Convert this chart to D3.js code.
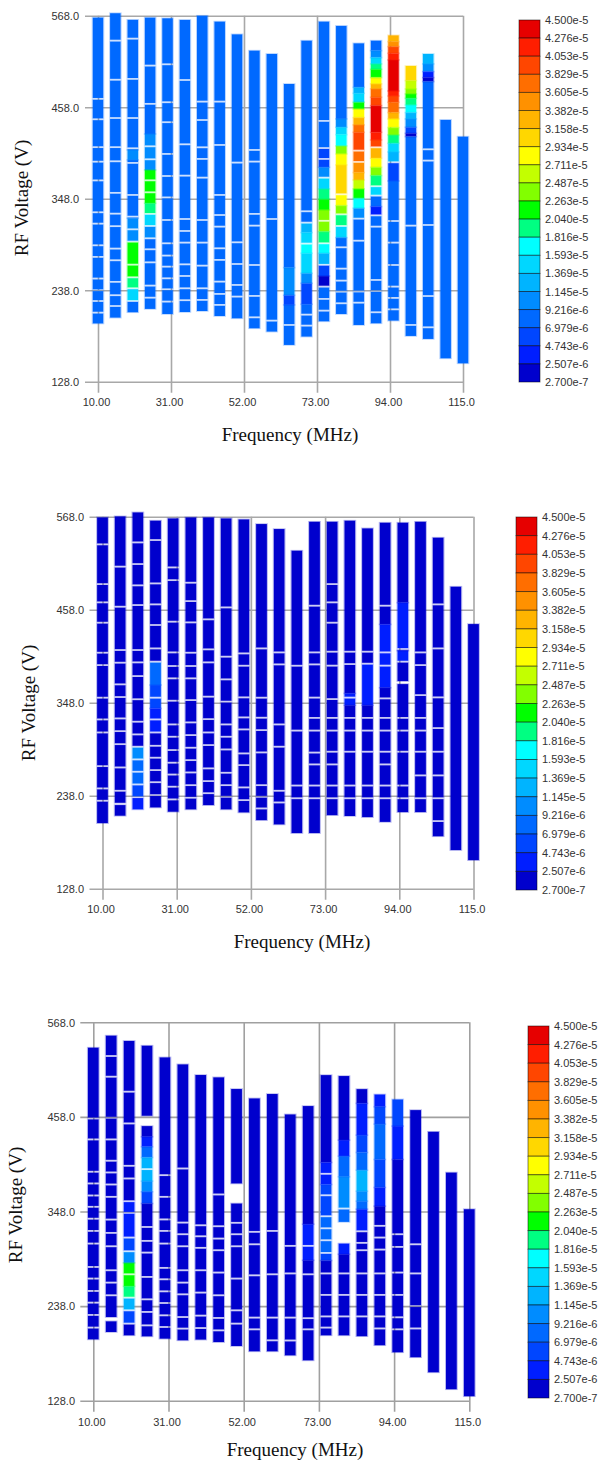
<!DOCTYPE html>
<html><head><meta charset="utf-8">
<script src="https://cdn.jsdelivr.net/npm/d3@7/dist/d3.min.js"></script>
<style>html,body{margin:0;padding:0;background:#fff;overflow:hidden}svg{display:block}</style>
</head><body><svg id="c" width="600" height="1461"></svg>
<script>
const frequencies = [10,15,20,25,30,35,40,45,50,55,60,65,70,75,80,85,90,95,100,105,110,115];
const xTickValues = [10,31,52,73,94,115];
const xTickLabels = ["10.00","31.00","52.00","73.00","94.00","115.0"];
const yTickValues = [128,238,348,458,568];
const yTickLabels = ["128.0","238.0","348.0","458.0","568.0"];
const legendLabels = ["4.500e-5","4.276e-5","4.053e-5","3.829e-5","3.605e-5","3.382e-5","3.158e-5","2.934e-5","2.711e-5","2.487e-5","2.263e-5","2.040e-5","1.816e-5","1.593e-5","1.369e-5","1.145e-5","9.216e-6","6.979e-6","4.743e-6","2.507e-6","2.700e-7"];
const levelColors = ["#0000cd","#001eff","#0046ff","#0069ff","#008cff","#00b4ff","#00d7ff","#00ffff","#00ff82","#00ff00","#82ff00","#c3ff00","#ffff00","#ffd700","#ffb400","#ff9100","#ff6e00","#ff4600","#ff1e00","#e60000"];

// Panel 1: RF voltage extents per frequency
const p1Tops = [565.7,571,563,565.7,564.9,562.9,568,560.9,545.6,526,522,485.9,538,560.9,555.7,534.8,538,544.4,507.6,522,442.7,422.6];
const p1Bottoms = [198,205,211.5,215.5,209.4,211.8,213,207,204.2,192.2,188.2,172.2,182.2,200.6,209.4,196.2,198.2,201.4,183,179.4,156.1,150.1];
const p1Gaps = [
 [468,443.5,410,392.5,370,331.7,318,292,278,252,238,225,211],
 [538,491,445,410,393,355,330,315,288,274,248,232,219],
 [540.4,492,445,408.6,391,352.5,326.4,311.2,296.4,268.7,253.5,240.3,225],
 [508,462,411,395.4,370.1,355.7,329.7,315.2,300.4,287.2,271.5,243.5,229],
 [509.6,464,440,401.8,375.3,349.5,322.4,294.4,279.6,266.3,252.3,239.1,224.3],
 [490.7,413.4,375.7,323.6,309.2,295.2,269.1,255.1,240.3,226],
 [464.7,442.6,409.8,395.8,373.3,322.4,295.2,267.5,240.3,226.3],
 [464.7,412.6,352.5,328.4,314.4,288.4,274.4,248.3,233.5,220.3],
 [391.4,295.6,269.5,244.3,230.3],
 [406.6,392.6,329.7,315.6,268.3,231.1,205.4],
 [323.6,201.4],
 [196.2],
 [332.9,319.2,294,208.6,195.4],
 [441.5,408.9,395.8,373.3,321.4,294.4,268.5,242.3,227.5,213.4],
 [353.3,329.2,315.2,289.6,263.9,249.5,236.3,222.3],
 [405.8,392.2,324,297.5,236.5,223],
 [409.8,363,351.7,328,314.4,250.3,237,211.5],
 [391.8,321.2,295.2,268.3,242.3,228.7,215],
 [315.6,196.2],
 [407.4,393.8,316.4,231,193.4],
 [],[]
];
const p1Paint = [
 [2,406.6,394.6,4],[2,324.4,297.6,4],[2,295,255,9],[2,253.5,240.3,8],[2,240.3,225,6],
 [3,425.8,382.5,4],[3,382.5,342.5,9],[3,342.5,329.7,8],[3,329.7,315.2,6],[3,315.2,300.4,4],
 [11,265.1,231.9,4],[11,231.9,220.3,2],
 [12,319.2,307.2,5],[12,307.2,294,6],[12,294,282.4,7],[12,282.4,258.3,6],[12,258.3,246.3,4],[12,246.3,221.1,2],
 [13,408.9,395.8,2],[13,395.8,385.8,2],[13,385.8,373.3,4],[13,373.3,359.7,6],[13,359.7,347.3,8],[13,347.3,334.5,9],[13,334.5,308.4,10],[13,308.4,294.4,8],[13,294.4,282.4,7],[13,282.4,268.5,5],[13,268.5,255,2],[13,255,242.3,0],
 [14,443.9,433.9,4],[14,433.9,425,6],[14,425,411.4,7],[14,411.4,401.8,10],[14,401.8,388.6,12],[14,388.6,353.7,13],[14,353.7,339.7,12],[14,339.7,329.2,10],[14,329.2,315.2,8],[14,315.2,301.2,6],
 [15,481.9,474.7,5],[15,474.7,463.9,6],[15,463.9,455.9,9],[15,455.9,445.5,12],[15,445.5,436.7,14],[15,436.7,427.8,16],[15,427.8,405.8,17],[15,405.8,392.2,16],[15,392.2,379.4,15],[15,379.4,370.5,14],[15,370.5,359.7,11],[15,359.7,348.5,9],[15,348.5,336.5,7],[15,336.5,324,4],
 [16,526,517.6,4],[16,517.6,510,6],[16,510,503.6,8],[16,503.6,493.6,9],[16,493.6,486,12],[16,486,480,14],[16,480,470,16],[16,470,459.9,17],[16,459.9,427.8,19],[16,427.8,418.6,18],[16,418.6,409.8,17],[16,409.8,396.6,14],[16,396.6,385.8,12],[16,385.8,375.8,10],[16,375.8,363,8],[16,363,351.7,6],[16,338.5,328,1],
 [17,544.4,536.8,14],[17,536.8,530.8,15],[17,530.8,522.8,17],[17,522.8,514.8,18],[17,514.8,477.5,19],[17,477.5,471.5,18],[17,471.5,463.9,17],[17,463.9,451.5,16],[17,451.5,443.9,14],[17,443.9,433.5,12],[17,433.5,424.6,10],[17,424.6,414.6,8],[17,414.6,404.2,6],[17,404.2,391.8,5],[17,391.8,369.3,2],
 [18,507.6,490,13],[18,490,479.9,11],[18,479.9,473.9,10],[18,473.9,468.7,9],[18,468.7,460.7,8],[18,460.7,451.5,7],[18,451.5,443.9,5],[18,443.9,433.9,4],[18,433.9,426.6,2],[18,426.6,422.6,0],
 [19,522,510,5],[19,510,500.8,4],[19,500.8,493.6,1],[19,493.6,488.8,0]
];
const p1Holes = [];

// Panel 2
const p2Tops = [567.2,568.4,573.1,563.3,566,567.2,567.2,566,564.8,559.3,553.4,527.8,562,562,563.3,554.2,560.9,560.9,562,543.2,485.2,441];
const p2Bottoms = [205.6,214.3,221.8,224.1,219,221.8,226.9,221.8,218.2,209.1,204,193.8,193.8,215,214,212.7,207,218.6,218.6,190,173.7,161.8];
const p2Gaps = [
 [535.3,488.3,466.7,442.6,407.1,392.5,353.9,328.2,312.8,273,246.6,232],
 [508.9,461.5,410.3,395.3,369.7,354.7,329.4,314.4,299,271.4,243.8],
 [537.6,512,486.8,463.5,410.3,395.7,379.5,352.1,325.5,310.5,295.9,280.9,266.3,251.3,236.3],
 [540.4,489.1,464.3,439.9,412.2,396.5,353.9,328.2,312.8,297,282.9,268.3,254,238.7],
 [508,493,443.8,407.5,391.4,376.8,350.3,322.3,307.7,292,277,263,248.6,233.6],
 [489.9,468.2,443,407.1,391.4,376.8,351.1,324.7,309.7,294.7,280.1,265.5,250.5,235.6],
 [446.6,411.1,395.7,355.1,328.6,312.8,297.9,270.3,255.3,241],
 [460.7,402.4,375.6,349.2,322.3,307.7,292.7,265.1,250.5,236.7],
 [406.3,391.7,354.3,330.6,316.4,288,274.2,247.8,232.8],
 [412.2,353.9,330.2,315.6,289.2,250.5,236.7,222.9],
 [407.5,393.3,322.3,295.9,243.8,230],
 [391.7,315,250,235],
 [462.7,407.5,393.3,354,330,315,289,275,250,235],
 [488.3,466.7,442.6,408.3,391.8,352.3,330,315,290,275,250,235],
 [408.3,393.7,354,330,315,290,250,235],
 [408.3,394.1,330,315,290,250,235],
 [462.7,407.5,391.8,353.1,330,315,290,275,250,235],
 [411.5,396.5,330,315,290,250,235],
 [407.5,392.5,357,330,315,290,262,235],
 [464.3,412.2,354.3,318,290,262,235,208],
 [],[]
];
const p2Paint = [
 [2,295.9,280.9,4],[2,280.9,251.3,3],[2,251.3,236.3,2],[2,236.3,221.8,1],
 [3,395.3,368.9,3],[3,368.9,341.2,2],[3,341.2,328.2,1],[3,328.2,312.8,1],
 [14,359,345,1],[15,393.3,345,1],
 [16,440.6,408.3,1],[16,406,393.3,1],[16,390.6,365.7,1],
 [17,466.3,411.5,1],[17,409.5,396.5,1]
];
const p2Holes = [[1,229.6,226.9],[17,373.6,370]];

// Panel 3
const p3Tops = [538.5,552.5,546.3,540.8,527.2,519.1,506.7,504,490.4,479.5,484.6,460.9,470.6,506.6,505.5,490.3,484.1,478.3,465.9,440.7,393.3,350.7];
const p3Bottoms = [199.3,207.9,204,202.8,200.1,198.2,199,196.2,191.6,185.4,185.4,180.7,174.9,204,204,203,192.5,184.3,178.5,161,141.3,133.2];
const p3Gaps = [
 [456.2,431.8,394.2,380.6,366.6,353.4,339.6,325.4,310.7,283.5,270,255.6,242,227.7,213],
 [528.8,504.7,457,431.8,407,393.4,379.4,365,338.6,323.1,307.6,279.7,265.3,250.6],
 [487.3,450.4,401.1,386.4,360,346.4,317.7,301.8,275,247.8,233.1,217.6],
 [397.3,330,313.8,300.2,271.9,245.9,231.2,215.6],
 [390.3,365,338.8,325.4,310.7,282.4,269.2,255.2,241.6,227.3,213.7],
 [398,335.1,321.6,307.6,279.7,265.3,251.7,225.3,211.8],
 [332,319.2,305.7,279.7,253.7,226.9,212.5],
 [367.8,330.9,316.5,303,277,250.6,224.2,209.8],
 [334.8,321.6,307.6,270,233.1,217.6],
 [324.3,309.9,273.8,224.6,211],
 [325.4,275,224.6,198.2],
 [308,276,224.6,198],
 [308,275,224,211],
 [391.8,366.9,342.5,328.5,314.6,299.8,276,251,226,213],
 [351.4,276,251,226],
 [325,311.5,303,276,251,226],
 [331.3,317.7,303.7,276,251,226,212],
 [321.6,306.8,277,251,225,211],
 [309.9,276,238,212],
 [],[],[]
];
const p3Paint = [
 [2,360,317.7,1],[2,317.7,301.8,2],[2,301.8,288.2,4],[2,288.2,261,9],[2,261,247.8,8],[2,247.8,233.1,5],[2,233.1,217.6,2],
 [3,434.9,423.3,1],[3,423.3,410.8,3],[3,410.8,383.3,5],[3,383.3,370.9,4],[3,370.9,357.3,2],
 [12,333.2,308,1],[12,308,291.3,1],
 [13,405,379.4,1],[13,379.4,366.9,2],[13,366.9,342.5,2],[13,342.5,299.8,3],[13,299.8,291,2],
 [14,431,412.4,1],[14,412.4,388.3,3],[14,388.3,351.4,4],[14,351.4,335.9,3],[14,310.7,298.3,1],
 [15,473.7,436.8,1],[15,436.8,416.6,2],[15,416.6,396,3],[15,396,371.6,5],[15,371.6,360,4],[15,360,350.7,3],[15,350.7,325,1],
 [16,484.1,469.8,1],[16,469.8,449.6,2],[16,449.6,408.5,3],[16,408.5,375.9,2],[16,375.9,354.2,1],
 [17,478.3,447.3,2],[17,447.3,408.5,1]
];
const p3Holes = [[3,459.3,447.3],[8,380.6,357.3],[14,335.9,310.7],[1,225.3,220.3]];

const panels = [
 {tops:p1Tops,bottoms:p1Bottoms,gaps:p1Gaps,paint:p1Paint,holes:p1Holes,base:3,
  x0:98,x1:463,y0:381.7,y1:15.7,barW:10.6,grid:"#a8a8a8",
  lx:519,lw:21,ly0:20,ly1:382,ylab:[21,198],xlab:[290,434],tickX:79,xTickY:402},
 {tops:p2Tops,bottoms:p2Bottoms,gaps:p2Gaps,paint:p2Paint,holes:p2Holes,base:0,
  x0:102.5,x1:473.5,y0:888.7,y1:516.7,barW:10.8,grid:"#a8a8a8",
  lx:516,lw:21,ly0:517,ly1:890,ylab:[28,703],xlab:[302,941],tickX:84,xTickY:909},
 {tops:p3Tops,bottoms:p3Bottoms,gaps:p3Gaps,paint:p3Paint,holes:p3Holes,base:0,
  x0:93.3,x1:469.3,y0:1400.7,y1:1022.3,barW:10.8,grid:"#a0a0a0",
  lx:528,lw:21,ly0:1026,ly1:1398,ylab:[15,1205],xlab:[295,1449.5],tickX:75,xTickY:1422}
];

const svg = d3.select("#c");
const LABEL = "'Liberation Sans',Arial,sans-serif", TITLE = "'Liberation Serif','Times New Roman',serif";

panels.forEach(p=>{
  const x = d3.scaleLinear().domain([10,115]).range([p.x0,p.x1]);
  const y = d3.scaleLinear().domain([128,568]).range([p.y0,p.y1]);
  const g = svg.append("g");
  const H = p.y0-p.y1, W = p.x1-p.x0;

  const xa = g.append("g").attr("transform",`translate(0,${p.y0})`)
    .call(d3.axisBottom(x).tickValues(xTickValues).tickFormat((d,i)=>xTickLabels[i]));
  xa.select(".domain").remove();
  xa.selectAll("line").attr("y1",11).attr("y2",-H).attr("stroke",p.grid).attr("stroke-width",1.6);
  xa.selectAll("text").attr("y",p.xTickY-p.y0).attr("dy","0.35em").attr("dx",-2)
    .attr("font-family",LABEL).attr("font-size",11).attr("fill","#333");

  const ya = g.append("g").attr("transform",`translate(${p.x0},0)`)
    .call(d3.axisLeft(y).tickValues(yTickValues).tickFormat((d,i)=>yTickLabels[i]));
  ya.select(".domain").remove();
  ya.selectAll("line").attr("x1",-13).attr("x2",W).attr("stroke",p.grid).attr("stroke-width",1.6);
  ya.selectAll("text").attr("x",p.tickX-p.x0).attr("text-anchor","end").attr("dy","0.35em")
    .attr("font-family",LABEL).attr("font-size",11).attr("fill","#333");

  // cells
  const cells = [];
  frequencies.forEach((f,i)=>{
    const gaps = p.gaps[i].slice();
    const paints = p.paint.filter(d=>d[0]===i);
    const holes = p.holes.filter(d=>d[0]===i);
    const top = p.tops[i], bot = p.bottoms[i];
    let edges = paints.flatMap(d=>[d[1],d[2]]).concat(holes.flatMap(d=>[d[1],d[2]]))
      .filter(e=>gaps.every(v=>Math.abs(v-e)>1.6));
    let br = Array.from(new Set([top,bot,...gaps,...edges].filter(v=>v<=top&&v>=bot))).sort((a,b)=>b-a);
    for(let k=0;k<br.length-1;k++){
      const hi=br[k], lo=br[k+1], mid=(hi+lo)/2;
      if(holes.some(h=>mid<h[1]&&mid>h[2])) continue;
      const pt = paints.find(d=>mid<=d[1]&&mid>=d[2]);
      const inHi = gaps.includes(hi)?1.1:0, inLo = gaps.includes(lo)?1.1:0;
      cells.push({f,hi:hi-inHi,lo:lo+inLo,level:pt?pt[3]:p.base});
    }
  });
  g.append("g").selectAll("rect").data(cells).join("rect")
    .attr("x",d=>x(d.f)-p.barW/2).attr("width",p.barW)
    .attr("y",d=>y(d.hi)).attr("height",d=>Math.max(0.5,y(d.lo)-y(d.hi)))
    .attr("fill",d=>levelColors[d.level]);
  // soft halo around each column edge
  g.append("g").selectAll("rect").data(cells).join("rect")
    .attr("x",d=>x(d.f)-p.barW/2-0.5).attr("width",p.barW+1)
    .attr("y",d=>y(d.hi)-0.3).attr("height",d=>Math.max(0.5,y(d.lo)-y(d.hi))+0.6)
    .attr("fill","none").attr("stroke",d=>levelColors[d.level]).attr("stroke-opacity",.28).attr("stroke-width",1);

  // axis titles
  g.append("text").attr("x",p.xlab[0]).attr("y",p.xlab[1]).attr("text-anchor","middle").attr("dy","0.35em")
    .attr("font-family",TITLE).attr("font-size",19).attr("fill","#111").text("Frequency (MHz)");
  g.append("text").attr("transform",`translate(${p.ylab[0]},${p.ylab[1]}) rotate(-90)`)
    .attr("text-anchor","middle").attr("dy","0.35em")
    .attr("font-family",TITLE).attr("font-size",19).attr("fill","#111").text("RF Voltage (V)");

  // legend
  const ls = d3.scaleLinear().domain([0,20]).range([p.ly0,p.ly1]);
  g.append("g").selectAll("rect").data(d3.range(20)).join("rect")
    .attr("x",p.lx).attr("width",p.lw).attr("y",d=>ls(d)).attr("height",d=>ls(d+1)-ls(d))
    .attr("fill",d=>levelColors[19-d]).attr("stroke","#000").attr("stroke-opacity",.55).attr("stroke-width",.9);
  const la = g.append("g").attr("transform",`translate(${p.lx+p.lw},0)`)
    .call(d3.axisRight(ls).tickValues(d3.range(21)).tickSize(0).tickFormat(i=>legendLabels[i]));
  la.select(".domain").remove();
  la.selectAll("text").attr("x",5).attr("font-family",LABEL).attr("font-size",11).attr("fill","#333");
});
</script></body></html>
